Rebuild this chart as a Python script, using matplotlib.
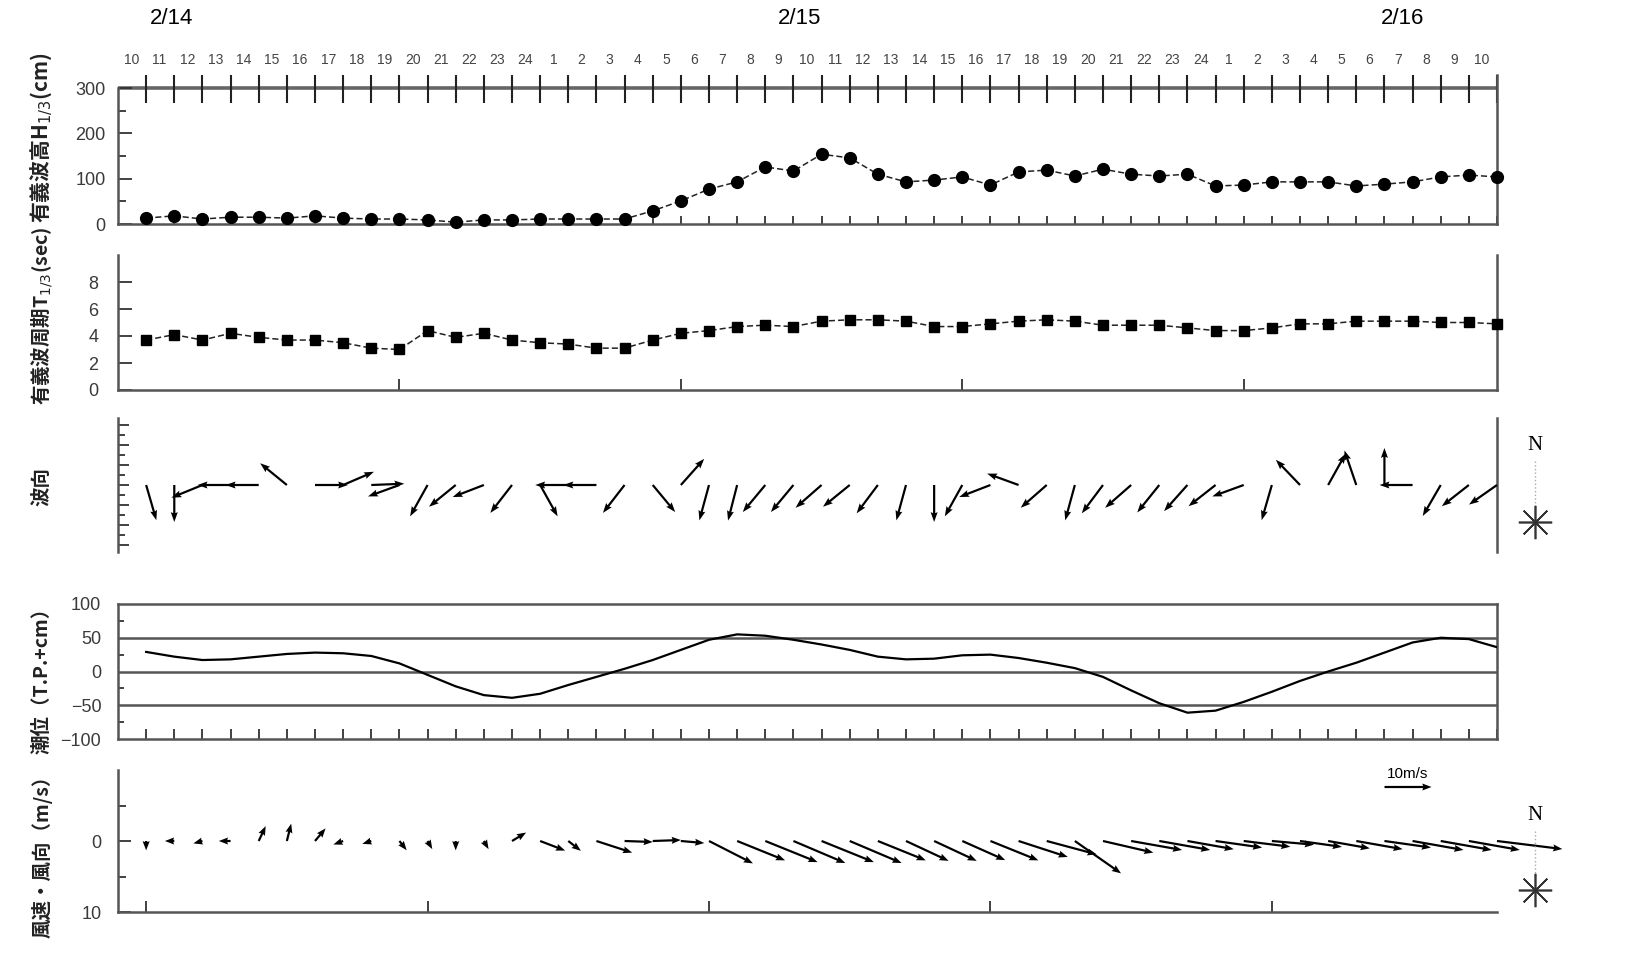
import matplotlib
matplotlib.use('Agg')
import matplotlib.pyplot as plt
import numpy as np

# ---------------- data ----------------
hours = [10, 11, 12, 13, 14, 15, 16, 17, 18, 19, 20, 21, 22, 23, 24,
         1, 2, 3, 4, 5, 6, 7, 8, 9, 10, 11, 12, 13, 14, 15, 16, 17, 18, 19, 20, 21, 22, 23, 24,
         1, 2, 3, 4, 5, 6, 7, 8, 9, 10]
dates = ['2/14', '2/15', '2/16']

wave_height = [13, 18, 11, 15, 15, 13, 18, 13, 11, 11, 9, 4, 9, 9, 11,
               11, 11, 11, 29, 51, 77, 93, 126, 117, 154, 146, 110, 93, 97, 104, 86, 115, 119, 106, 121, 110, 106, 110, 84,
               86, 93, 93, 93, 84, 88, 93, 104, 108, 104]

wave_period = [3.7, 4.1, 3.7, 4.2, 3.9, 3.7, 3.7, 3.5, 3.1, 3.0, 4.4, 3.9, 4.2, 3.7, 3.5,
               3.4, 3.1, 3.1, 3.7, 4.2, 4.4, 4.7, 4.8, 4.7, 5.1, 5.2, 5.2, 5.1, 4.7, 4.7, 4.9, 5.1, 5.2, 5.1, 4.8, 4.8, 4.8, 4.6, 4.4,
               4.4, 4.6, 4.9, 4.9, 5.1, 5.1, 5.1, 5.0, 5.0, 4.9]

wave_dir = [162, 180, 250, 270, 270, 306, 90, 69, 88, 252, 212, 234, 251, 221, 148,
            270, 270, 221, 137, 45, 197, 196, 223, 223, 232, 234, 220, 197, 180, 212, 251, 288, 232, 197, 220, 232, 222, 225, 235,
            252, 198, 313, 32, 339, 0, 270, 213, 235, 238]

tide = [29, 22, 17, 18, 22, 26, 28, 27, 23, 12, -5, -22, -35, -39, -33,
        -20, -8, 4, 17, 32, 47, 55, 53, 47, 40, 32, 22, 18, 19, 24, 25, 20, 13, 5, -8, -28, -47, -61, -58,
        -45, -30, -14, 0, 13, 28, 43, 50, 48, 36]

wind_dir = [180, 270, 255, 270, 25, 14, 40, 250, 252, 142, 150, 180, 150, 59, 111,
            128, 108, 92, 88, 95, 117, 112, 112, 113, 112, 113, 112, 115, 115, 114, 112, 108, 105, 125, 103, 100, 100, 100, 98,
            97, 95, 98, 100, 100, 98, 100, 100, 100, 97]
wind_speed = [2.0, 2.0, 2.0, 2.5, 3.5, 3.8, 3.5, 2.2, 2.0, 2.5, 2.0, 2.0, 2.0, 3.5, 5.7,
              3.4, 8.0, 6.0, 6.0, 5.0, 10.5, 11.0, 12.0, 12.0, 12.0, 12.0, 11.0, 10.0, 10.0, 10.0, 11.0, 11.0, 11.0, 12.0, 11.0, 11.0, 11.0, 10.0, 10.0,
              10.0, 9.0, 9.0, 9.0, 10.0, 10.0, 11.0, 11.0, 11.0, 14.0]

# ---------------- style ----------------
W, H = 1626, 972
fig = plt.figure(figsize=(W / 100, H / 100), dpi=100)
CJK = ['Noto Sans CJK JP', 'DejaVu Sans']
SPC = '#555555'
TL = 13

x = np.arange(len(hours))
XL, XR = 118, 1497


def axes_px(top, bottom):
    return fig.add_axes([XL / W, 1 - bottom / H, (XR - XL) / W, (bottom - top) / H])


def base(ax):
    ax.set_xlim(-1, len(hours) - 1)
    for s in ax.spines.values():
        s.set_color(SPC)
        s.set_linewidth(1.8)
    ax.tick_params(axis='both', which='both', direction='in', colors='#333333',
                   labelsize=TL, width=1.3, pad=9)


def fix_labels(ax):
    for lab in ax.get_yticklabels():
        lab.set_fontfamily('Liberation Sans')
        lab.set_color('#3a3a3a')


# ---- Panel 1: significant wave height ----
ax1 = axes_px(75, 224)
base(ax1)
ax1.plot(x, wave_height, color='#222222', lw=1.1, ls=(0, (4, 2)), marker='o', ms=8.5,
         mfc='black', mec='black', zorder=3, clip_on=False)
ax1.set_ylim(0, 329)
ax1.set_yticks([0, 100, 200, 300])
ax1.set_yticks([50, 150, 250], minor=True)
ax1.set_xticks(x)
ax1.set_xticklabels([])
ax1.tick_params(axis='x', length=6)
ax1.tick_params(axis='y', which='major', length=10)
ax1.tick_params(axis='y', which='minor', length=6)
ax1.spines['top'].set_visible(False)
ax1.spines['left'].set_bounds(0, 300)
ax1.axhline(300, color='#666666', lw=2.6, zorder=1)
ax1.vlines(x, 267, 329, color='#222222', lw=1.5, clip_on=False, zorder=2)
for i, h in enumerate(hours):
    ax1.text(i - 0.53, 362, str(h), ha='center', va='center', fontsize=10,
             color='#444444', family='Liberation Sans', clip_on=False)
fix_labels(ax1)

# ---- Panel 2: significant wave period ----
ax2 = axes_px(255, 390)
base(ax2)
ax2.plot(x, wave_period, color='#222222', lw=1.1, ls=(0, (4, 2)), marker='s', ms=7.5,
         mfc='black', mec='black', zorder=3, clip_on=False)
ax2.set_ylim(0, 10)
ax2.set_yticks([0, 2, 4, 6, 8])
ax2.set_xticks([9, 19, 29, 39])
ax2.set_xticklabels([])
ax2.tick_params(axis='x', length=8)
ax2.tick_params(axis='y', length=10, pad=14)
ax2.spines['top'].set_visible(False)
fix_labels(ax2)

# ---- Panel 3: wave direction ----
ax3 = axes_px(418, 552)
base(ax3)
ax3.set_ylim(-6.7, 6.7)
ax3.spines['top'].set_visible(False)
ax3.spines['bottom'].set_visible(False)
ax3.set_xticks([])
ax3.set_yticks([-6, -4, -2, 0, 2, 4, 6])
ax3.set_yticks([-5, -3, -1, 1, 3, 5], minor=True)
ax3.set_yticklabels([])
ax3.tick_params(axis='y', which='major', length=8)
ax3.tick_params(axis='y', which='minor', length=5)
wd = np.radians(wave_dir)
ax3.quiver(x, np.zeros(len(x)), 33 * np.sin(wd), 37 * np.cos(wd), angles='uv',
           units='dots', scale_units='dots', scale=1, width=2.2, headwidth=3.2,
           headlength=4.5, headaxislength=4.0, color='black', clip_on=False, zorder=3)

# ---- Panel 4: tide level ----
ax4 = axes_px(604, 739)
base(ax4)
ax4.plot(x, tide, color='black', lw=1.6, zorder=3)
ax4.set_ylim(-100, 100)
ax4.set_yticks([-100, -50, 0, 50, 100])
ax4.set_yticks([-75, -25, 25, 75], minor=True)
for yv in (50, 0, -50):
    ax4.axhline(yv, color='#555555', lw=1.8, zorder=1)
ax4.set_xticks(x)
ax4.set_xticklabels([])
ax4.tick_params(axis='x', length=7)
ax4.tick_params(axis='y', which='major', length=0, pad=12)
ax4.tick_params(axis='y', which='minor', length=4)
fix_labels(ax4)

# ---- Panel 5: wind speed / direction ----
ax5 = axes_px(770, 912)
base(ax5)
ax5.set_ylim(10, -10)
ax5.set_yticks([0, 10])
ax5.set_yticks([-5, 5], minor=True)
ax5.tick_params(axis='y', which='major', length=9, pad=12)
ax5.tick_params(axis='y', which='minor', length=6)
ax5.spines['top'].set_visible(False)
ax5.spines['right'].set_visible(False)
ax5.set_xticks([0, 10, 20, 30, 40])
ax5.set_xticklabels([])
ax5.tick_params(axis='x', length=8)
wdr = np.radians(wind_dir)
ws = np.array(wind_speed)
q = ax5.quiver(x, np.zeros(len(x)), ws * np.sin(wdr), ws * np.cos(wdr), angles='uv',
               units='dots', scale_units='dots', scale=1 / 4.7, width=2.2, headwidth=3.2,
               headlength=4.2, headaxislength=3.8, color='black', clip_on=False, zorder=3)
ax5.quiverkey(q, 1408 / W, 1 - 787 / H, 10, '10m/s', labelpos='N', coordinates='figure',
              labelsep=0.06, fontproperties=dict(family='Liberation Sans', size=11))
fix_labels(ax5)

# ---- labels ----
LBL = dict(rotation=90, ha='center', va='center', family=CJK, color='#222222',
           fontweight='bold')
fig.text(42 / W, 1 - 138 / H, '有義波高H$_{1/3}$(cm)', fontsize=15, **LBL)
fig.text(42 / W, 1 - 316 / H, '有義波周期T$_{1/3}$(sec)', fontsize=14, **LBL)
fig.text(42 / W, 1 - 487 / H, '波向', fontsize=14, **LBL)
fig.text(42 / W, 1 - 676 / H, '潮位（T.P.+cm）', fontsize=14, **LBL)
fig.text(42 / W, 1 - 852 / H, '風速・風向（m/s）', fontsize=14, **LBL)

for d, px in zip(dates, (172, 800, 1403)):
    fig.text(px / W, 1 - 18 / H, d, ha='center', va='center', fontsize=16,
             family='Liberation Sans', color='black')

# ---- compasses ----
ov = fig.add_axes([0, 0, 1, 1])
ov.set_xlim(0, W)
ov.set_ylim(H, 0)
ov.axis('off')
for ny, sy in ((445, 522), (815, 890)):
    ov.text(1535, ny, 'N', ha='center', va='center', fontsize=15, family='Liberation Serif')
    ov.plot([1535, 1535], [ny + 16, sy - 12], color='#aaaaaa', lw=1, ls=':')
    ov.plot([1535], [sy], marker=(8, 2, 0), ms=24, color='#333333', mew=1.2)

fig.savefig('out.png', dpi=100)
